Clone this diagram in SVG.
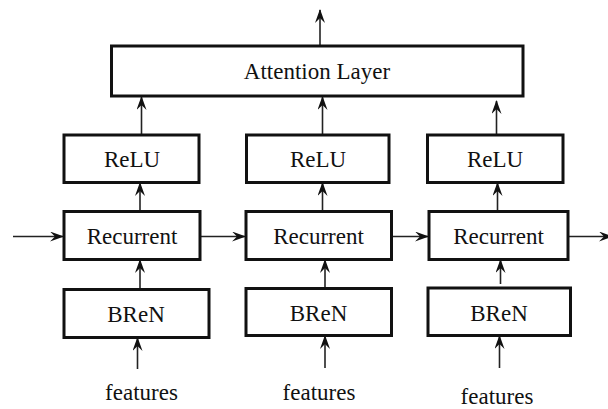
<svg xmlns="http://www.w3.org/2000/svg" width="608" height="409" viewBox="0 0 608 409">
<style>
.box{fill:#fff;stroke:#111;stroke-width:3}
.lbl{font-family:"Liberation Serif","Times New Roman",serif;font-size:23px;fill:#111;text-anchor:middle}
.arr{fill:none;stroke:#222;stroke-width:1.6;marker-end:url(#ah)}
</style>
<defs>
<marker id="ah" markerUnits="userSpaceOnUse" markerWidth="14" markerHeight="10" viewBox="0 0 14 10" refX="13" refY="5" orient="auto">
<path d="M0,0 L14,5 L0,10 L5,5 z" fill="#111"/>
</marker>
</defs>
<rect width="608" height="409" fill="#fff"/>
<g id="connectors">
<line class="arr" x1="320" y1="46" x2="320" y2="10"/>
<line class="arr" x1="141.5" y1="135" x2="141.5" y2="97"/>
<line class="arr" x1="322.5" y1="135" x2="322.5" y2="97"/>
<line class="arr" x1="496.5" y1="135" x2="496.5" y2="101"/>
<line class="arr" x1="140" y1="211" x2="140" y2="183"/>
<line class="arr" x1="322.5" y1="211" x2="322.5" y2="183"/>
<line class="arr" x1="497.5" y1="211" x2="497.5" y2="183"/>
<line class="arr" x1="13" y1="236.5" x2="63" y2="236.5"/>
<line class="arr" x1="200" y1="236.5" x2="245" y2="236.5"/>
<line class="arr" x1="392" y1="236.5" x2="428" y2="236.5"/>
<line class="arr" x1="568" y1="236.5" x2="612" y2="236.5"/>
<line class="arr" x1="140" y1="289" x2="140" y2="260"/>
<line class="arr" x1="325" y1="288" x2="325" y2="260"/>
<line class="arr" x1="500.5" y1="284" x2="500.5" y2="260"/>
<line class="arr" x1="137.5" y1="369" x2="137.5" y2="338"/>
<line class="arr" x1="325" y1="368" x2="325" y2="336"/>
<line class="arr" x1="499.5" y1="368" x2="499.5" y2="336"/>
</g>
<g id="attention"><rect class="box" x="111.5" y="46" width="411.5" height="50"/><text class="lbl" x="317" y="79">Attention Layer</text></g>
<g id="relu1"><rect class="box" x="64" y="135" width="135" height="47.5"/><text class="lbl" x="132" y="167">ReLU</text></g>
<g id="relu2"><rect class="box" x="246.5" y="135" width="142.5" height="47.5"/><text class="lbl" x="318" y="167">ReLU</text></g>
<g id="relu3"><rect class="box" x="427.5" y="135" width="135.5" height="47.5"/><text class="lbl" x="495" y="167">ReLU</text></g>
<g id="rec1"><rect class="box" x="64" y="211.5" width="136" height="48"/><text class="lbl" x="132" y="244">Recurrent</text></g>
<g id="rec2"><rect class="box" x="246" y="211.5" width="145.5" height="48"/><text class="lbl" x="318.5" y="244">Recurrent</text></g>
<g id="rec3"><rect class="box" x="429" y="211.5" width="139" height="48"/><text class="lbl" x="498.5" y="244">Recurrent</text></g>
<g id="bren1"><rect class="box" x="64" y="289.5" width="145" height="48"/><text class="lbl" x="136" y="322">BReN</text></g>
<g id="bren2"><rect class="box" x="246" y="288.5" width="145.5" height="47"/><text class="lbl" x="318.5" y="321">BReN</text></g>
<g id="bren3"><rect class="box" x="428" y="288" width="142.5" height="47.5"/><text class="lbl" x="499" y="321">BReN</text></g>
<g id="feat1"><text class="lbl" x="141.5" y="400">features</text></g>
<g id="feat2"><text class="lbl" x="319" y="400">features</text></g>
<g id="feat3"><text class="lbl" x="497" y="404">features</text></g>
</svg>
